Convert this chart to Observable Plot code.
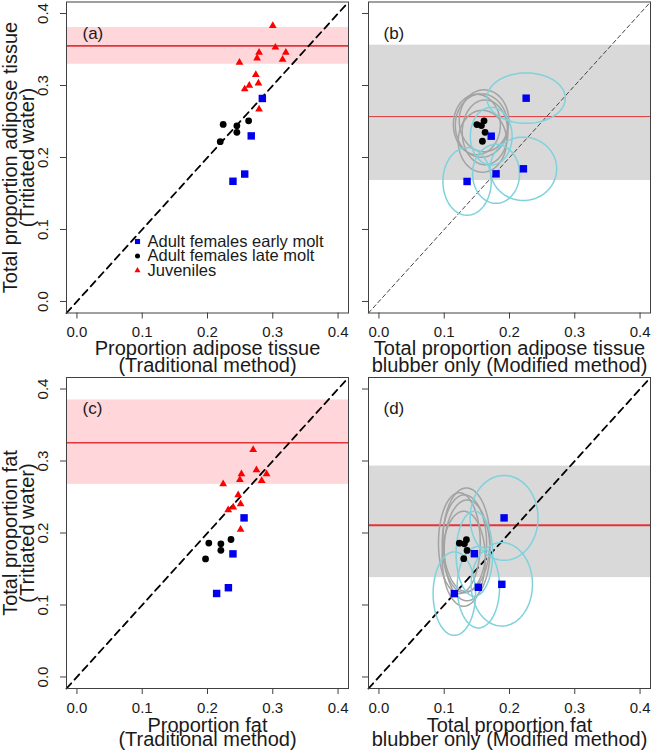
<!DOCTYPE html>
<html>
<head>
<meta charset="utf-8">
<script src="https://cdn.jsdelivr.net/npm/d3@7"></script>
<script src="https://cdn.jsdelivr.net/npm/@observablehq/plot@0.6"></script>
<style>
  html, body { margin: 0; padding: 0; background: #fff; }
  #chart { position: relative; width: 651px; height: 752px; background: #fff; overflow: hidden; }
  #chart svg { position: absolute; }
</style>
</head>
<body>
<div id="chart"></div>
<script>
// ---------------- data ----------------
const tickValues = [0, 0.1, 0.2, 0.3, 0.4];
const axisLimits = [-0.016, 0.416];

// legend
const legendLabels = ["Adult females early molt", "Adult females late molt", "Juveniles"];

// panel (a): traditional vs tritiated water, adipose tissue
const earlyA_x = [0.284, 0.267, 0.257, 0.239];
const earlyA_y = [0.282, 0.230, 0.177, 0.167];
const lateA_x = [0.224, 0.245, 0.263, 0.245, 0.2195];
const lateA_y = [0.246, 0.244, 0.251, 0.235, 0.222];
const juvA_x = [0.300, 0.304, 0.320, 0.315, 0.279, 0.276, 0.249, 0.274, 0.278, 0.264, 0.257, 0.279];
const juvA_y = [0.383, 0.353, 0.346, 0.336, 0.346, 0.338, 0.332, 0.315, 0.303, 0.300, 0.295, 0.267];
const bandA = [0.3295, 0.3805];
const meanA = 0.355;

// panel (b): modified (blubber only) vs tritiated water, adipose tissue
const earlyB_x = [0.2255, 0.172, 0.1794, 0.2213, 0.135];
const earlyB_y = [0.2824, 0.2296, 0.1773, 0.1843, 0.1667];
const earlyB_rx = [0.060, 0.032, 0.036, 0.051, 0.037];
const earlyB_ry = [0.035, 0.040, 0.041, 0.044, 0.047];
const lateB_x = [0.150, 0.157, 0.161, 0.1626, 0.1585];
const lateB_y = [0.2458, 0.2444, 0.251, 0.235, 0.2226];
const lateB_rx = [0.036, 0.040, 0.038, 0.035, 0.037];
const lateB_ry = [0.042, 0.044, 0.043, 0.045, 0.043];
const bandB = [0.168, 0.356];
const meanB = 0.2568;

// panel (c): traditional vs tritiated water, fat
const earlyC_x = [0.256, 0.239, 0.232, 0.214];
const earlyC_y = [0.221, 0.171, 0.124, 0.116];
const lateC_x = [0.202, 0.2205, 0.236, 0.2205, 0.197];
const lateC_y = [0.186, 0.185, 0.191, 0.176, 0.164];
const juvC_x = [0.270, 0.275, 0.2905, 0.283, 0.252, 0.2496, 0.224, 0.247, 0.2507, 0.2394, 0.2317, 0.2507];
const juvC_y = [0.3156, 0.2875, 0.282, 0.2727, 0.282, 0.274, 0.268, 0.2529, 0.2404, 0.2357, 0.232, 0.2048];
const bandC = [0.2676, 0.3848];
const meanC = 0.3253;

// panel (d): modified (blubber only) vs tritiated water, fat
const earlyD_x = [0.1917, 0.1462, 0.1523, 0.1882, 0.1155];
const earlyD_y = [0.221, 0.1712, 0.1246, 0.1287, 0.1158];
const earlyD_rx = [0.052, 0.028, 0.0325, 0.047, 0.0325];
const earlyD_ry = [0.059, 0.059, 0.0565, 0.058, 0.058];
const lateD_x = [0.1232, 0.134, 0.1309, 0.135, 0.1299];
const lateD_y = [0.1859, 0.1906, 0.185, 0.1758, 0.1643];
const lateD_rx = [0.032, 0.036, 0.034, 0.035, 0.033];
const lateD_ry = [0.070, 0.072, 0.068, 0.070, 0.066];
const bandD = [0.138, 0.293];
const meanD = 0.2108;

// ---------------- helpers ----------------
const FONT = "'Liberation Sans', Arial, Helvetica, sans-serif";
const TEXT = "#1a1a1a";
const BOX = "#404040";
const fmt = d3.format(".1f");
const zip = (xs, ys) => xs.map((x, i) => ({x, y: ys[i]}));
function ellipses(xs, ys, rxs, rys) {
  const out = [];
  xs.forEach((cx, i) => {
    for (let k = 0; k <= 90; k++) {
      const t = (k / 90) * 2 * Math.PI;
      out.push({id: i, x: cx + rxs[i] * Math.cos(t), y: ys[i] + rys[i] * Math.sin(t)});
    }
  });
  return out;
}

function panel(o) {
  const marks = [];
  // band and mean line
  marks.push(Plot.rect([o.band], {x1: axisLimits[0], x2: axisLimits[1], y1: d => d[0], y2: d => d[1], fill: o.bandFill}));
  marks.push(Plot.ruleY([o.mean], {stroke: "#e2353a", strokeWidth: o.meanWidth}));
  // 1:1 line
  marks.push(Plot.line(axisLimits.map(v => ({x: v, y: v})), {x: "x", y: "y", stroke: o.diagStroke, strokeWidth: o.diagWidth, strokeDasharray: o.diagDash}));
  // ellipses
  if (o.grayEll) marks.push(Plot.line(o.grayEll, {x: "x", y: "y", z: "id", stroke: "#a3a3a3", strokeWidth: 1.5}));
  if (o.cyanEll) marks.push(Plot.line(o.cyanEll, {x: "x", y: "y", z: "id", stroke: "#7ed2dc", strokeWidth: 1.5}));
  // points
  if (o.juv) marks.push(Plot.dot(o.juv, {x: "x", y: "y", symbol: "triangle2", r: 3.7, fill: "red"}));
  marks.push(Plot.dot(o.late, {x: "x", y: "y", symbol: "circle", r: 3.4, fill: "black"}));
  marks.push(Plot.dot(o.early, {x: "x", y: "y", symbol: "square", r: 4.2, fill: "#0000ee"}));
  // frame and axes
  marks.push(Plot.frame({stroke: BOX, strokeWidth: 1}));
  marks.push(Plot.axisX(tickValues, {anchor: "bottom", tickSize: 6, tickFormat: () => "", stroke: BOX, label: null}));
  marks.push(Plot.axisY(tickValues, {anchor: "left", tickSize: 6, tickFormat: () => "", stroke: BOX, label: null}));
  marks.push(Plot.text(tickValues, {x: d => d, frameAnchor: "bottom", dy: 19.5, text: d => fmt(d), fontSize: 15, fill: TEXT, lineAnchor: "middle"}));
  if (o.yTitle) {
    marks.push(Plot.text(tickValues, {y: d => d, frameAnchor: "left", dx: -23, rotate: -90, text: d => fmt(d), fontSize: 15, fill: TEXT, lineAnchor: "middle", textAnchor: "middle"}));
    marks.push(Plot.text([o.yTitle[0]], {frameAnchor: "left", dx: -56, rotate: -90, text: d => d, fontSize: 20, fill: TEXT, lineAnchor: "middle", textAnchor: "middle"}));
    marks.push(Plot.text([o.yTitle[1]], {frameAnchor: "left", dx: -39, rotate: -90, text: d => d, fontSize: 20, fill: TEXT, lineAnchor: "middle", textAnchor: "middle"}));
  }
  marks.push(Plot.text([o.xTitle[0]], {frameAnchor: "bottom", dy: o.xt[0], text: d => d, fontSize: 20, fill: TEXT, lineAnchor: "middle"}));
  marks.push(Plot.text([o.xTitle[1]], {frameAnchor: "bottom", dy: o.xt[1], text: d => d, fontSize: 20, fill: TEXT, lineAnchor: "middle"}));
  // panel letter
  marks.push(Plot.text([o.letter], {frameAnchor: "top-left", dx: o.letterDx, dy: 31.5, text: d => d, fontSize: 17, fill: TEXT, textAnchor: "start", lineAnchor: "middle"}));
  // legend
  if (o.legend) {
    const syms = ["square", "circle", "triangle2"];
    const cols = ["#0000ee", "black", "red"];
    const rs = [2.9, 2.5, 2.9];
    legendLabels.forEach((lab, i) => {
      const dy = 239.5 + i * 14.5;
      marks.push(Plot.dot([lab], {frameAnchor: "top-left", dx: 71, dy, symbol: syms[i], r: rs[i], fill: cols[i]}));
      marks.push(Plot.text([lab], {frameAnchor: "top-left", dx: 81, dy, text: d => d, fontSize: 16.5, fill: TEXT, textAnchor: "start", lineAnchor: "middle"}));
    });
  }
  const svg = Plot.plot({
    width: o.width, height: o.height,
    marginLeft: o.ml, marginRight: o.mr, marginTop: o.mt, marginBottom: o.mb,
    x: {domain: axisLimits}, y: {domain: axisLimits},
    style: {fontFamily: FONT, background: "transparent", overflow: "visible"},
    marks
  });
  svg.style.left = o.left + "px";
  svg.style.top = o.top + "px";
  return svg;
}

const chart = document.getElementById("chart");
const common = {};
chart.append(panel({
  left: 0, top: 0, width: 350, height: 375, ml: 66, mr: 2, mt: 1.5, mb: 62.5,
  band: bandA, mean: meanA, bandFill: "#ffd6d9", meanWidth: 1.6,
  diagStroke: "black", diagWidth: 1.8, diagDash: "7,5",
  early: zip(earlyA_x, earlyA_y), late: zip(lateA_x, lateA_y), juv: zip(juvA_x, juvA_y),
  yTitle: ["Total proportion adipose tissue", "(Tritiated water)"],
  xTitle: ["Proportion adipose tissue", "(Traditional method)"], xt: [36, 52.5],
  letter: "(a)", letterDx: 16, legend: true
}));
chart.append(panel({
  left: 350, top: 0, width: 301, height: 375, ml: 18, mr: 1, mt: 1.5, mb: 62.5,
  band: bandB, mean: meanB, bandFill: "#d9d9d9", meanWidth: 1,
  diagStroke: "#444", diagWidth: 1, diagDash: "4,3",
  early: zip(earlyB_x, earlyB_y), late: zip(lateB_x, lateB_y),
  grayEll: ellipses(lateB_x, lateB_y, lateB_rx, lateB_ry),
  cyanEll: ellipses(earlyB_x, earlyB_y, earlyB_rx, earlyB_ry),
  xTitle: ["Total proportion adipose tissue", "blubber only (Modified method)"], xt: [36, 52.5],
  letter: "(b)", letterDx: 15
}));
chart.append(panel({
  left: 0, top: 375, width: 350, height: 377, ml: 66, mr: 2, mt: 2, mb: 64,
  band: bandC, mean: meanC, bandFill: "#ffd6d9", meanWidth: 1.6,
  diagStroke: "black", diagWidth: 1.8, diagDash: "7,5",
  early: zip(earlyC_x, earlyC_y), late: zip(lateC_x, lateC_y), juv: zip(juvC_x, juvC_y),
  yTitle: ["Total proportion fat", "(Tritiated water)"],
  xTitle: ["Proportion fat", "(Traditional method)"], xt: [37, 51.5],
  letter: "(c)", letterDx: 16
}));
chart.append(panel({
  left: 350, top: 375, width: 301, height: 377, ml: 18, mr: 1, mt: 2, mb: 64,
  band: bandD, mean: meanD, bandFill: "#d9d9d9", meanWidth: 2,
  diagStroke: "black", diagWidth: 1.8, diagDash: "7,5",
  early: zip(earlyD_x, earlyD_y), late: zip(lateD_x, lateD_y),
  grayEll: ellipses(lateD_x, lateD_y, lateD_rx, lateD_ry),
  cyanEll: ellipses(earlyD_x, earlyD_y, earlyD_rx, earlyD_ry),
  xTitle: ["Total proportion fat", "blubber only (Modified method)"], xt: [37, 51.5],
  letter: "(d)", letterDx: 15
}));
</script>
</body>
</html>
